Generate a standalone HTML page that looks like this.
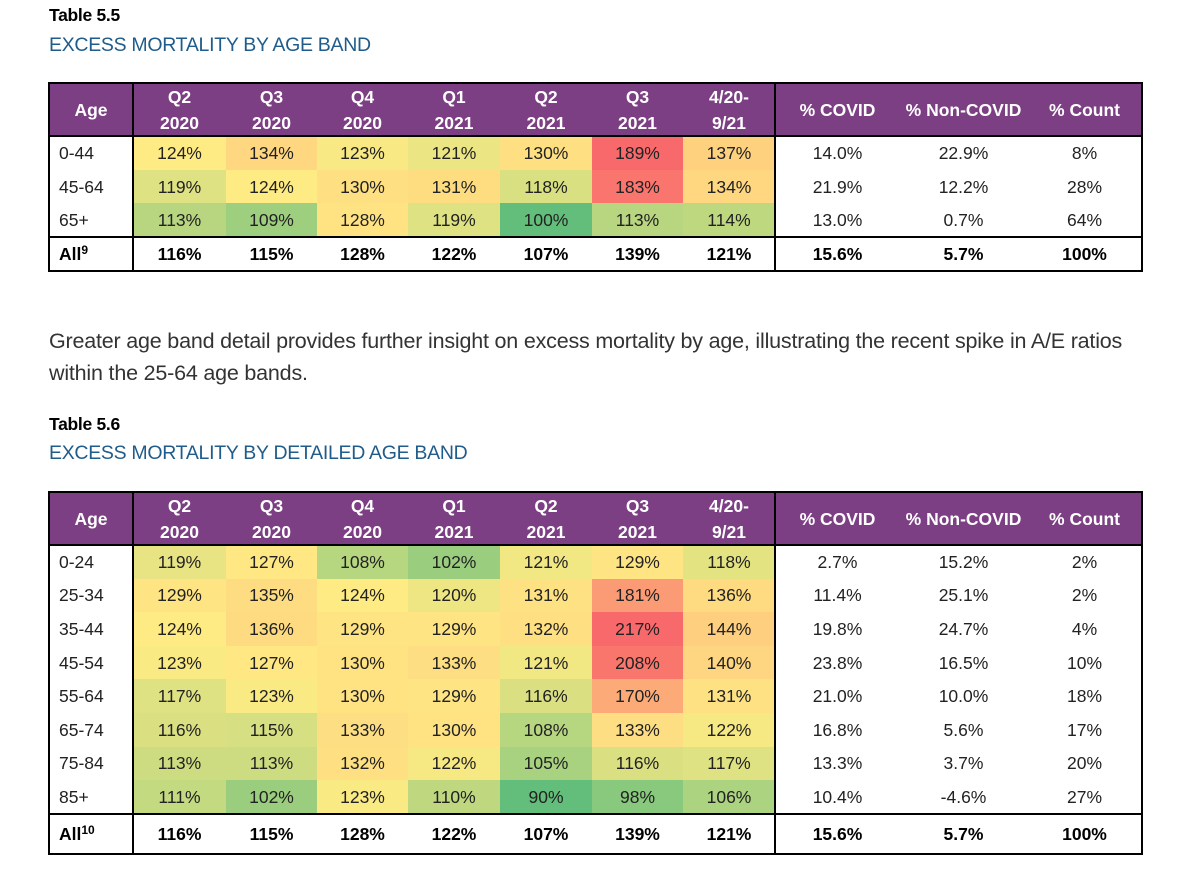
<!DOCTYPE html>
<html><head><meta charset="utf-8">
<style>
body{margin:0;background:#fff;width:1181px;height:889px;position:relative;overflow:hidden;font-family:"Liberation Sans",sans-serif;}
.a{position:absolute;}
.t{font-size:17.5px;color:#000;font-weight:bold;letter-spacing:-0.3px;}
.s{font-size:19.5px;color:#1F5C8B;letter-spacing:-0.3px;}
.p{font-size:21.5px;color:#333;letter-spacing:-0.2px;}
.c{position:absolute;display:flex;align-items:center;justify-content:center;font-size:17.5px;color:#222;box-sizing:border-box;text-align:center;line-height:26px;}
.h{background:#7D3F84;color:#fff;font-weight:bold;}
.b{font-weight:bold;color:#000;}
.ln{position:absolute;background:#000;}
sup{font-size:12px;vertical-align:6px;line-height:0;}
</style></head><body>
<div class="a t" style="left:49px;top:5px">Table 5.5</div>
<div class="a s" style="left:49px;top:34px">EXCESS MORTALITY BY AGE BAND</div>
<div class="a p" style="left:49px;top:325px;line-height:32px;width:1130px;white-space:nowrap">Greater age band detail provides further insight on excess mortality by age, illustrating the recent spike in A/E ratios<br>within the 25-64 age bands.</div>
<div class="a t" style="left:49px;top:414px">Table 5.6</div>
<div class="a s" style="left:49px;top:442px">EXCESS MORTALITY BY DETAILED AGE BAND</div>
<div id="root"></div>
<script>
const headers = ["Age","Q2<br>2020","Q3<br>2020","Q4<br>2020","Q1<br>2021","Q2<br>2021","Q3<br>2021","4/20-<br>9/21","% COVID","% Non-COVID","% Count"];
const ages1 = ["0-44","45-64","65+"];
const ratios1 = [[124,134,123,121,130,189,137],[119,124,130,131,118,183,134],[113,109,128,119,100,113,114]];
const covid1 = ["14.0%","21.9%","13.0%"];
const noncovid1 = ["22.9%","12.2%","0.7%"];
const count1 = ["8%","28%","64%"];
const all1 = ["All<sup>9</sup>","116%","115%","128%","122%","107%","139%","121%","15.6%","5.7%","100%"];
const ages2 = ["0-24","25-34","35-44","45-54","55-64","65-74","75-84","85+"];
const ratios2 = [[119,127,108,102,121,129,118],[129,135,124,120,131,181,136],[124,136,129,129,132,217,144],[123,127,130,133,121,208,140],[117,123,130,129,116,170,131],[116,115,133,130,108,133,122],[113,113,132,122,105,116,117],[111,102,123,110,90,98,106]];
const covid2 = ["2.7%","11.4%","19.8%","23.8%","21.0%","16.8%","13.3%","10.4%"];
const noncovid2 = ["15.2%","25.1%","24.7%","16.5%","10.0%","5.6%","3.7%","-4.6%"];
const count2 = ["2%","2%","4%","10%","18%","17%","20%","27%"];
const all2 = ["All<sup>10</sup>","116%","115%","128%","122%","107%","139%","121%","15.6%","5.7%","100%"];

const xs=[49,133,226,317,408,500,592,683,775,900,1027,1142];
function mix(a,b,t){return a.map((v,i)=>Math.round(v+(b[i]-v)*t));}
function scale(vals){
  const s=[...vals].sort((a,b)=>a-b);const mn=s[0],mx=s[s.length-1],md=s[Math.floor(s.length/2)];
  const G=[99,190,123],Y=[255,235,132],R=[248,105,107];
  return v=>{let c=v<=md?mix(G,Y,(v-mn)/(md-mn||1)):mix(Y,R,(v-md)/(mx-md||1));return `rgb(${c})`;};
}
const root=document.getElementById('root');
function cell(x,y,w,h,html,cls,bg,name){
  const d=document.createElement('div');d.className='c '+cls;
  d.style.left=x+'px';d.style.top=y+'px';d.style.width=w+'px';d.style.height=h+'px';
  if(bg)d.style.background=bg;d.innerHTML='<span>'+html+'</span>';
  
  
  root.appendChild(d);
}
function line(x,y,w,h){const d=document.createElement('div');d.className='ln';d.style.left=x+'px';d.style.top=y+'px';d.style.width=w+'px';d.style.height=h+'px';
  
  
  root.appendChild(d);}
function table(id,top,hb,rh,ages,ratios,cv,nc,ct,all,allH){
  const col=scale(ratios.flat());
  for(let i=0;i<11;i++){cell(xs[i],top,xs[i+1]-xs[i],hb-top,headers[i],'h',null,id+'-header-'+i);}
  ages.forEach((a,r)=>{const y=hb+r*rh;
    cell(xs[0]+10,y,xs[1]-xs[0]-10,rh,a,'','',id+'-age-'+a);
    root.lastChild.style.justifyContent='flex-start';
    ratios[r].forEach((v,j)=>cell(xs[j+1],y,xs[j+2]-xs[j+1],rh,v+'%','',col(v),id+'-cell-'+a+'-'+j));
    cell(xs[8],y,xs[9]-xs[8],rh,cv[r],'',null,id+'-covid-'+a);
    cell(xs[9],y,xs[10]-xs[9],rh,nc[r],'',null,id+'-noncovid-'+a);
    cell(xs[10],y,xs[11]-xs[10],rh,ct[r],'',null,id+'-count-'+a);
  });
  const ya=hb+ages.length*rh;
  all.forEach((v,i)=>{cell(xs[i]+(i==0?10:0),ya,xs[i+1]-xs[i]-(i==0?10:0),allH,v,'b',null,id+'-all-'+i);if(i==0)root.lastChild.style.justifyContent='flex-start';});
  const bot=ya+allH;
  line(xs[0]-1,top-1,xs[11]-xs[0]+2,2);line(xs[0]-1,bot-1,xs[11]-xs[0]+2,2);
  line(xs[0]-1,hb-1,xs[11]-xs[0]+2,2);line(xs[0]-1,ya-1,xs[11]-xs[0]+2,2);
  [0,1,8,11].forEach(i=>line(xs[i]-1,top-1,2,bot-top+2));
}
table('table-5-5',83,136,33.7,ages1,ratios1,covid1,noncovid1,count1,all1,34);
table('table-5-6',492,545,33.6,ages2,ratios2,covid2,noncovid2,count2,all2,40);
</script>
</body></html>
